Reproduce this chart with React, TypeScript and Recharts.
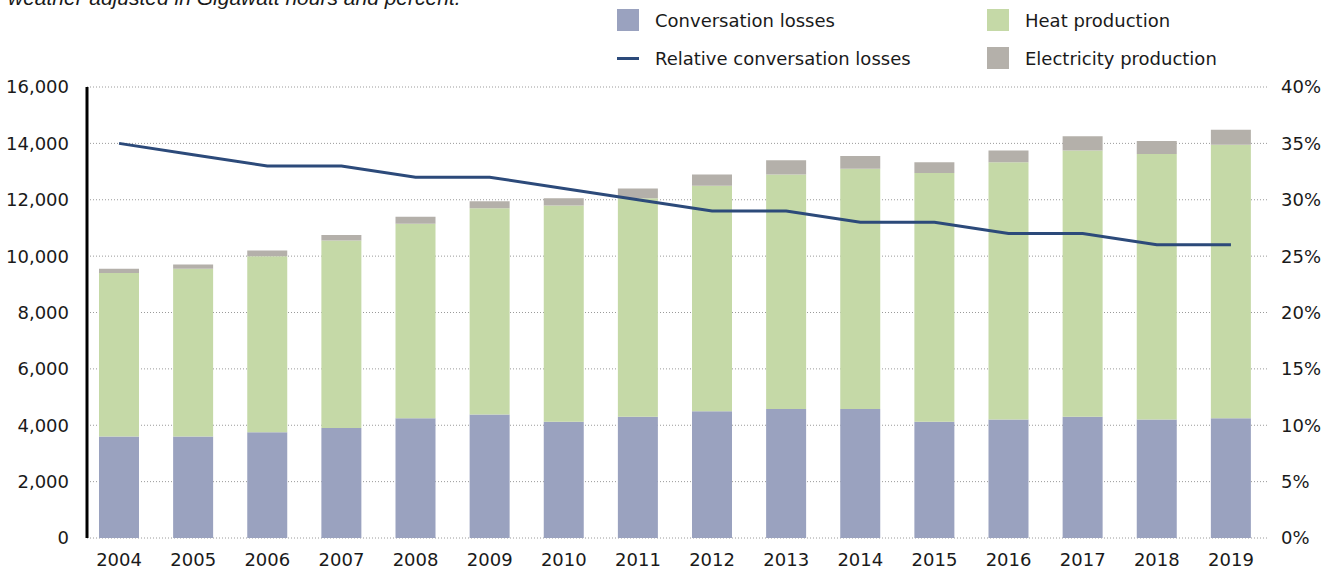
import { Bar, CartesianGrid, ComposedChart, Line, XAxis, YAxis } from 'recharts';

const years = ['2004', '2005', '2006', '2007', '2008', '2009', '2010', '2011', '2012', '2013', '2014', '2015', '2016', '2017', '2018', '2019'];
const conversationLosses = [3600, 3600, 3750, 3900, 4250, 4380, 4120, 4300, 4500, 4580, 4580, 4120, 4200, 4300, 4200, 4250];
const heatProduction = [5800, 5950, 6250, 6650, 6900, 7320, 7680, 7750, 8000, 8320, 8520, 8830, 9130, 9450, 9420, 9700];
const electricityProduction = [150, 150, 200, 200, 250, 250, 250, 350, 400, 500, 450, 380, 420, 500, 460, 530];
const relativeLosses = [35, 34, 33, 33, 32, 32, 31, 30, 29, 29, 28, 28, 27, 27, 26, 26];

const leftTicks = [0, 2000, 4000, 6000, 8000, 10000, 12000, 14000, 16000];
const rightTicks = [0, 5, 10, 15, 20, 25, 30, 35, 40];

const subtitle = 'weather-adjusted in Gigawatt hours and percent.';

const BLUE = '#9aa2bf';
const GREEN = '#c5d9a7';
const GREY = '#b4b0aa';
const NAVY = '#2c4a7a';
const FONT = '"DejaVu Sans", sans-serif';

const legendItems = [
    { label: 'Conversation losses', color: BLUE, kind: 'box', left: 617, top: 9 },
    { label: 'Heat production', color: GREEN, kind: 'box', left: 987, top: 9 },
    { label: 'Relative conversation losses', color: NAVY, kind: 'line', left: 617, top: 47 },
    { label: 'Electricity production', color: GREY, kind: 'box', left: 987, top: 47 },
];

export default function App() {
    const data = years.map((year, i) => ({
        year,
        losses: conversationLosses[i],
        heat: heatProduction[i],
        electricity: electricityProduction[i],
        relative: relativeLosses[i],
    }));

    const tickStyle = { fontSize: 18, fill: '#1a1a1a', fontFamily: FONT };

    return (
        <div style={{ position: 'absolute', left: 0, top: 0, width: 1337, height: 576, overflow: 'hidden', background: '#fff' }}>
            {/* subtitle is clipped at the top edge, as in the source image */}
            <div
                style={{
                    position: 'absolute',
                    left: 8,
                    top: -12,
                    fontFamily: '"Liberation Sans", Arial, sans-serif',
                    fontStyle: 'italic',
                    fontSize: 21,
                    lineHeight: '20px',
                    color: '#1a1a1a',
                    whiteSpace: 'nowrap',
                }}
            >
                {subtitle}
            </div>

            {legendItems.map((item) => (
                <div key={item.label} style={{ position: 'absolute', left: item.left, top: item.top, height: 22, display: 'flex', alignItems: 'center' }}>
                    {item.kind === 'box' ? (
                        <div style={{ width: 22, height: 22, background: item.color }} />
                    ) : (
                        <div style={{ width: 22, height: 3, background: item.color }} />
                    )}
                    <span style={{ marginLeft: 16, fontFamily: FONT, fontSize: 18, color: '#1a1a1a', whiteSpace: 'nowrap' }}>{item.label}</span>
                </div>
            ))}

            <ComposedChart width={1337} height={576} data={data} margin={{ top: 87, right: 0, bottom: 0, left: 0 }}>
                <CartesianGrid vertical={false} stroke="#9a9a9a" strokeDasharray="1 2" yAxisId="left" />
                <XAxis
                    dataKey="year"
                    axisLine={false}
                    tickLine={false}
                    tickSize={0}
                    tickMargin={15}
                    height={38}
                    padding={{ left: -5, right: 0 }}
                    tick={tickStyle}
                    interval={0}
                />
                <YAxis
                    yAxisId="left"
                    width={87}
                    domain={[0, 16000]}
                    ticks={leftTicks}
                    axisLine={{ stroke: '#000', strokeWidth: 3 }}
                    tickLine={false}
                    tickSize={0}
                    tickMargin={18}
                    tick={tickStyle}
                    tickFormatter={(v: number) => v.toLocaleString('en-US')}
                />
                <YAxis
                    yAxisId="right"
                    orientation="right"
                    width={69}
                    domain={[0, 40]}
                    ticks={rightTicks}
                    axisLine={false}
                    tickLine={false}
                    tickSize={0}
                    tickMargin={13}
                    tick={{ ...tickStyle, textAnchor: 'start' }}
                    tickFormatter={(v: number) => `${v}%`}
                />
                <Bar yAxisId="left" dataKey="losses" stackId="a" fill={BLUE} barSize={40} isAnimationActive={false} />
                <Bar yAxisId="left" dataKey="heat" stackId="a" fill={GREEN} barSize={40} isAnimationActive={false} />
                <Bar yAxisId="left" dataKey="electricity" stackId="a" fill={GREY} barSize={40} isAnimationActive={false} />
                <Line
                    yAxisId="right"
                    dataKey="relative"
                    stroke={NAVY}
                    strokeWidth={3}
                    dot={false}
                    activeDot={false}
                    isAnimationActive={false}
                />
            </ComposedChart>
        </div>
    );
}
